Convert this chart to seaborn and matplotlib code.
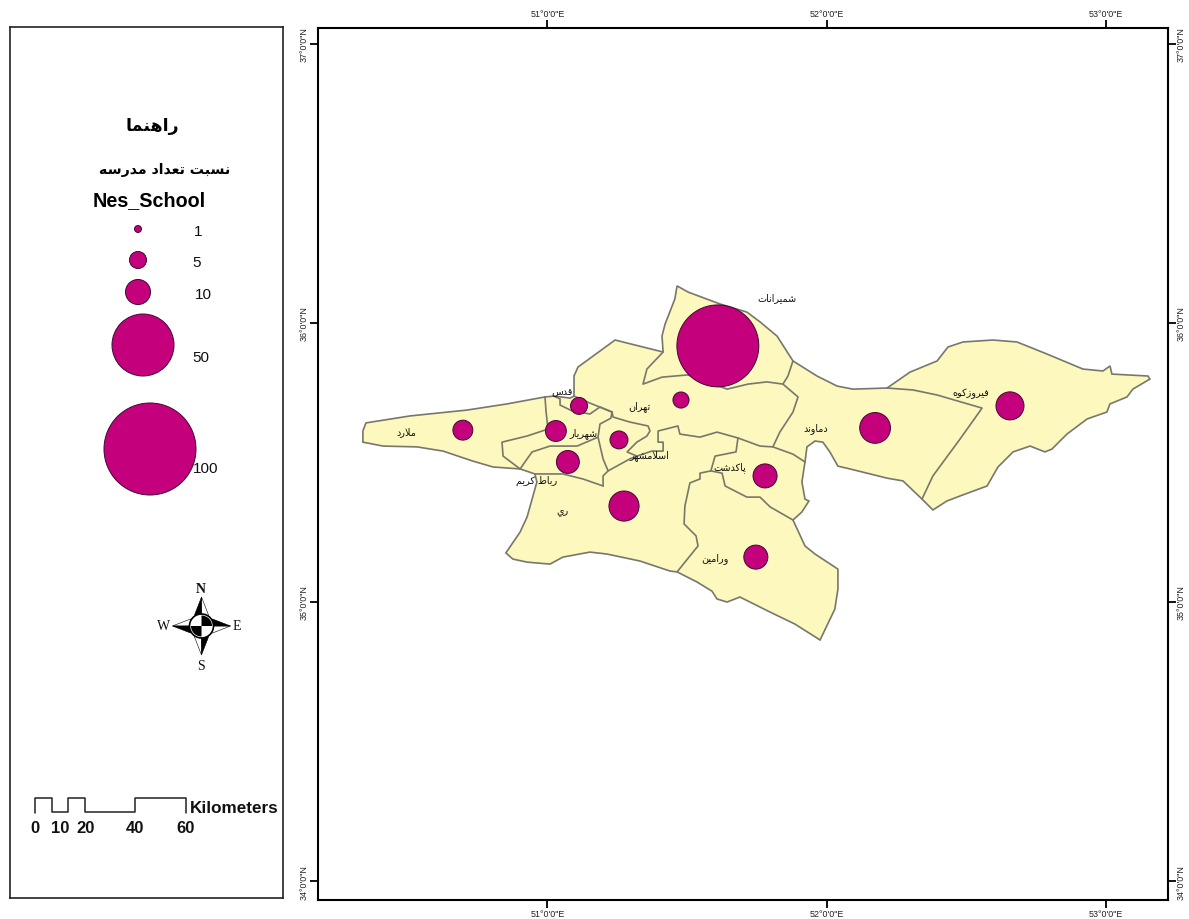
import numpy as np
import pandas as pd
import seaborn as sns
from matplotlib import pyplot as plt

# county bubbles: name, lon, lat, school ratio
county_names = ["شميرانات", "تهران", "قدس", "ملارد", "شهريار", "رباط كريم",
                "اسلامشهر", "ري", "ورامين", "پاكدشت", "دماوند", "فيروزكوه"]
bubble_lon = [51.610, 51.478, 51.113, 50.697, 51.030, 51.073,
              51.256, 51.274, 51.746, 51.779, 52.173, 52.656]
bubble_lat = [35.918, 35.724, 35.703, 35.616, 35.613, 35.502,
              35.581, 35.344, 35.161, 35.452, 35.624, 35.703]
nes_school = [81, 4.5, 5, 6.6, 7.2, 8.5, 5.5, 13.5, 9.3, 9.3, 14, 12]

label_lon = [51.822, 51.328, 51.052, 50.493, 51.127, 50.962,
             51.363, 51.052, 51.600, 51.653, 51.961, 52.516]
label_lat = [36.093, 35.706, 35.756, 35.613, 35.609, 35.437,
             35.527, 35.326, 35.161, 35.487, 35.624, 35.749]

legend_values = [1, 5, 10, 50, 100]

outer_lon = [50.339, 50.350, 50.508, 50.712, 50.855, 50.991, 51.023, 51.081, 51.095, 51.095,
             51.095, 51.109, 51.242, 51.342, 51.414, 51.410, 51.421, 51.456, 51.464, 51.503,
             51.618, 51.714, 51.761, 51.822, 51.879, 51.965, 52.037, 52.094, 52.216, 52.262,
             52.298, 52.395, 52.434, 52.488, 52.595, 52.681, 52.788, 52.917, 52.989, 53.014,
             53.021, 53.150, 53.157, 53.096, 53.075, 53.014, 53.003, 52.932, 52.860, 52.806,
             52.781, 52.728, 52.667, 52.613, 52.574, 52.477, 52.430, 52.380, 52.341, 52.273,
             52.216, 52.083, 52.040, 52.011, 51.986, 51.958, 51.929, 51.922, 51.911, 51.922,
             51.936, 51.911, 51.879, 51.922, 51.958, 52.040, 52.040, 52.029, 51.976, 51.886,
             51.797, 51.689, 51.643, 51.607, 51.589, 51.535, 51.464, 51.439, 51.331, 51.213,
             51.152, 51.055, 51.009, 50.927, 50.876, 50.851, 50.902, 50.927, 50.962, 50.955,
             50.902, 50.805, 50.733, 50.626, 50.533, 50.411, 50.339]
outer_lat = [35.613, 35.642, 35.667, 35.688, 35.710, 35.735, 35.738, 35.731, 35.738, 35.774,
             35.810, 35.842, 35.939, 35.914, 35.896, 35.953, 35.996, 36.086, 36.133, 36.111,
             36.068, 36.039, 36.004, 35.953, 35.864, 35.810, 35.774, 35.763, 35.767, 35.799,
             35.824, 35.864, 35.914, 35.932, 35.939, 35.932, 35.889, 35.835, 35.828, 35.846,
             35.817, 35.810, 35.799, 35.763, 35.735, 35.710, 35.681, 35.656, 35.602, 35.548,
             35.538, 35.559, 35.538, 35.484, 35.416, 35.380, 35.362, 35.330, 35.369, 35.434,
             35.444, 35.477, 35.487, 35.538, 35.573, 35.577, 35.556, 35.502, 35.430, 35.369,
             35.362, 35.323, 35.294, 35.201, 35.172, 35.118, 35.047, 34.975, 34.864, 34.921,
             34.964, 35.018, 35.000, 35.011, 35.039, 35.072, 35.108, 35.111, 35.147, 35.172,
             35.179, 35.161, 35.136, 35.143, 35.154, 35.176, 35.251, 35.305, 35.430, 35.459,
             35.477, 35.484, 35.505, 35.541, 35.556, 35.559, 35.573]

# county borders inside the province, (lons, lats)
inner_borders = [
    ([50.991, 50.995, 51.002], [35.735, 35.681, 35.620]),
    ([51.002, 50.927, 50.837, 50.841, 50.902], [35.620, 35.595, 35.573, 35.523, 35.477]),
    ([50.902, 50.927, 50.945, 51.009, 51.106, 51.181], [35.477, 35.513, 35.538, 35.559, 35.559, 35.591]),
    ([50.955, 51.055, 51.127, 51.199], [35.459, 35.459, 35.441, 35.416]),
    ([51.095, 51.152, 51.231], [35.738, 35.713, 35.681]),
    ([51.023, 51.045, 51.045, 51.088, 51.152, 51.188, 51.231],
     [35.738, 35.728, 35.706, 35.685, 35.674, 35.699, 35.681]),
    ([51.231, 51.227, 51.188, 51.181, 51.199, 51.217], [35.681, 35.659, 35.638, 35.591, 35.513, 35.470]),
    ([51.231, 51.235, 51.295, 51.360, 51.367, 51.356, 51.320, 51.285, 51.320],
     [35.681, 35.663, 35.645, 35.631, 35.613, 35.595, 35.573, 35.538, 35.523]),
    ([51.199, 51.199, 51.217, 51.295, 51.320, 51.374, 51.414, 51.414, 51.396, 51.396,
      51.467, 51.474, 51.546, 51.607, 51.682, 51.761, 51.807, 51.879, 51.922],
     [35.416, 35.452, 35.470, 35.513, 35.523, 35.541, 35.541, 35.573, 35.573, 35.613,
      35.631, 35.602, 35.591, 35.609, 35.588, 35.559, 35.556, 35.530, 35.502]),
    ([51.879, 51.861, 51.843, 51.897, 51.879, 51.832, 51.807],
     [35.864, 35.810, 35.781, 35.735, 35.681, 35.609, 35.556]),
    ([51.414, 51.356, 51.342, 51.410, 51.503, 51.564, 51.643, 51.718, 51.786, 51.843],
     [35.896, 35.835, 35.781, 35.806, 35.814, 35.792, 35.763, 35.781, 35.789, 35.781]),
    ([51.682, 51.675, 51.600, 51.585, 51.546, 51.546, 51.510, 51.492, 51.489, 51.532, 51.539, 51.464],
     [35.588, 35.538, 35.523, 35.470, 35.462, 35.441, 35.427, 35.344, 35.280, 35.237, 35.201, 35.108]),
    ([51.585, 51.625, 51.636, 51.714, 51.761, 51.797, 51.879],
     [35.470, 35.462, 35.416, 35.376, 35.376, 35.341, 35.294]),
    ([52.216, 52.309, 52.395, 52.556, 52.477, 52.380, 52.341],
     [35.767, 35.760, 35.742, 35.695, 35.584, 35.452, 35.369]),
]

W, H = 1189, 920
FILL = "#fcf8be"
BORDER = "#77776c"
BUBBLE = "#c4007c"
BUBBLE_EDGE = "#3c0a30"


# matplotlib has no Arabic shaping, so pick the joined glyphs by hand
FORMS = {
    "ا": (0xFE8D, 0xFE8E), "ب": (0xFE8F, 0xFE90, 0xFE91, 0xFE92),
    "پ": (0xFB56, 0xFB57, 0xFB58, 0xFB59), "ت": (0xFE95, 0xFE96, 0xFE97, 0xFE98),
    "د": (0xFEA9, 0xFEAA), "ر": (0xFEAD, 0xFEAE), "ز": (0xFEAF, 0xFEB0),
    "س": (0xFEB1, 0xFEB2, 0xFEB3, 0xFEB4), "ش": (0xFEB5, 0xFEB6, 0xFEB7, 0xFEB8),
    "ط": (0xFEC1, 0xFEC2, 0xFEC3, 0xFEC4), "ع": (0xFEC9, 0xFECA, 0xFECB, 0xFECC),
    "ف": (0xFED1, 0xFED2, 0xFED3, 0xFED4), "ق": (0xFED5, 0xFED6, 0xFED7, 0xFED8),
    "ك": (0xFED9, 0xFEDA, 0xFEDB, 0xFEDC), "ل": (0xFEDD, 0xFEDE, 0xFEDF, 0xFEE0),
    "م": (0xFEE1, 0xFEE2, 0xFEE3, 0xFEE4), "ن": (0xFEE5, 0xFEE6, 0xFEE7, 0xFEE8),
    "ه": (0xFEE9, 0xFEEA, 0xFEEB, 0xFEEC), "و": (0xFEED, 0xFEEE),
    "ي": (0xFEF1, 0xFEF2, 0xFEF3, 0xFEF4), "\ufefb": (0xFEFB, 0xFEFC),
}


def shape(text):
    text = text.replace("لا", "\ufefb")
    out = []
    for i, ch in enumerate(text):
        if ch not in FORMS:
            out.append(ch)
            continue
        prev = text[i - 1] if i > 0 else " "
        nxt = text[i + 1] if i + 1 < len(text) else " "
        joined_before = prev in FORMS and len(FORMS[prev]) == 4
        joined_after = nxt in FORMS and len(FORMS[ch]) == 4
        forms = FORMS[ch]
        if joined_before and joined_after:
            out.append(chr(forms[3]))
        elif joined_before:
            out.append(chr(forms[1]))
        elif joined_after:
            out.append(chr(forms[2]))
        else:
            out.append(chr(forms[0]))
    return "".join(reversed(out))


def marker_area(values):
    # the legend circles are not quite proportional, so go through the legend
    return np.interp(values, legend_values, [25, 150, 324, 1993, 4388])


sns.set_style("white")
plt.rcParams["font.family"] = ["Liberation Sans", "DejaVu Sans"]

f = plt.figure(figsize=(W / 100, H / 100), dpi=100)

# ---- map frame
ax = f.add_axes([317.5 / W, 1 - 900.5 / H, 850 / W, 872 / H])
ax.set_xlim(50.1765, 53.220)
ax.set_ylim(33.934, 37.059)

ax.fill(outer_lon, outer_lat, facecolor=FILL, edgecolor=BORDER, linewidth=1.2, zorder=1)
for lons, lats in inner_borders:
    ax.plot(lons, lats, color=BORDER, linewidth=1.2, zorder=2)

counties = pd.DataFrame({"lon": bubble_lon, "lat": bubble_lat, "ratio": nes_school})
sns.scatterplot(data=counties, x="lon", y="lat", s=marker_area(counties.ratio), color=BUBBLE,
                edgecolor=BUBBLE_EDGE, linewidth=0.7, legend=False, zorder=3, ax=ax)

for name, x, y in zip(county_names, label_lon, label_lat):
    ax.text(x, y, shape(name), fontsize=6.9, family="DejaVu Sans", ha="center", va="center",
            color="#111111", zorder=4)

ax.set_xlabel("")
ax.set_ylabel("")
ax.set_xticks([51, 52, 53])
ax.set_yticks([34, 35, 36, 37])
ax.set_xticklabels(['%d°0\'0"E' % v for v in [51, 52, 53]])
ax.set_yticklabels(['%d°0\'0"N' % v for v in [34, 35, 36, 37]])
ax.tick_params(axis="both", direction="out", length=6, width=1.3, color="black", labelsize=6.4,
               pad=0.5, left=True, right=True, top=True, bottom=True, labelleft=True,
               labelright=True, labeltop=True, labelbottom=True, labelcolor="#222222")
for tick in ax.yaxis.get_major_ticks():
    for lab in (tick.label1, tick.label2):
        lab.set_rotation(90)
        lab.set_va("center")
for side in ax.spines.values():
    side.set_visible(True)
    side.set_linewidth(1.5)
    side.set_color("black")

# ---- legend panel, laid out in picture units
lg = f.add_axes([10 / W, 1 - 899 / H, 273 / W, 871 / H])
lg.set_xlim(10, 283)
lg.set_ylim(899, 28)
lg.set_xticks([])
lg.set_yticks([])
for side in lg.spines.values():
    side.set_visible(True)
    side.set_linewidth(1.2)
    side.set_color("#222222")

lg.text(152, 126, shape("راهنما"), fontsize=12.5, fontweight="bold", family="DejaVu Sans",
        ha="center", va="center", color="black")
lg.text(165, 170, shape("نسبت تعداد مدرسه"), fontsize=10.2, fontweight="bold", family="DejaVu Sans",
        ha="center", va="center", color="black")
lg.text(149, 201, "Nes_School", fontsize=14.2, fontweight="bold", ha="center", va="center", color="black")

legend_df = pd.DataFrame({"x": [138, 138, 138, 143, 150], "y": [230, 261, 293, 346, 450],
                          "value": legend_values})
sns.scatterplot(data=legend_df, x="x", y="y", s=marker_area(legend_df.value), color=BUBBLE,
                edgecolor=BUBBLE_EDGE, linewidth=0.7, legend=False, ax=lg)
lg.set_xlabel("")
lg.set_ylabel("")
for v, x, y in zip(legend_values, [198, 197, 203, 201, 206], [232, 263, 295, 358, 469]):
    lg.text(x, y, str(v), fontsize=11, ha="center", va="center", color="#111111")

# north arrow
cx, cy = 201.5, 627
for ang in [0, 90, 180, 270]:
    a = np.deg2rad(ang)
    d = np.array([np.sin(a), -np.cos(a)])
    n = np.array([np.cos(a), np.sin(a)])
    c = np.array([cx, cy])
    reach = 29
    tip = c + d * reach
    lg.fill(*zip(c, tip, c + d * 11 + n * 7), facecolor="white", edgecolor="black", linewidth=0.4, zorder=5)
    lg.fill(*zip(c, tip, c + d * 11 - n * 7), facecolor="black", edgecolor="black", linewidth=0.4, zorder=5)
theta = np.linspace(0, 2 * np.pi, 80)
lg.fill(cx + 12 * np.cos(theta), cy + 12 * np.sin(theta), facecolor="white", edgecolor="black", linewidth=1.2, zorder=6)
for start in [0, 180]:
    t = np.deg2rad(np.linspace(start - 90, start, 20))
    lg.fill(np.r_[cx, cx + 10.5 * np.cos(t)], np.r_[cy, cy + 10.5 * np.sin(t)], color="black", lw=0, zorder=7)
for letter, x, y in [("N", 201, 590), ("S", 201.5, 667), ("W", 164, 627), ("E", 237, 627)]:
    lg.text(x, y, letter, fontsize=10, family="Liberation Serif", fontweight="bold" if letter == "N" else "normal",
            ha="center", va="center", color="#111111")

# scale bar
bar_km = [0, 20 / 3, 40 / 3, 20, 40, 60]
bar_x = [35 + km * 2.51 for km in bar_km]
lg.plot([bar_x[0], bar_x[0], bar_x[1], bar_x[1], bar_x[2], bar_x[2], bar_x[3], bar_x[3],
         bar_x[4], bar_x[4], bar_x[5], bar_x[5]],
        [814, 799, 799, 813, 813, 799, 799, 813, 813, 799, 799, 814], color="#222222", linewidth=1.1)
for km in [0, 10, 20, 40, 60]:
    lg.text(35 + km * 2.51, 829, str(km), fontsize=12, fontweight="bold", ha="center", va="center", color="#111111")
lg.text(190, 809, "Kilometers", fontsize=12.3, fontweight="bold", ha="left", va="center", color="#111111")

f.savefig("out.png", dpi=100)
